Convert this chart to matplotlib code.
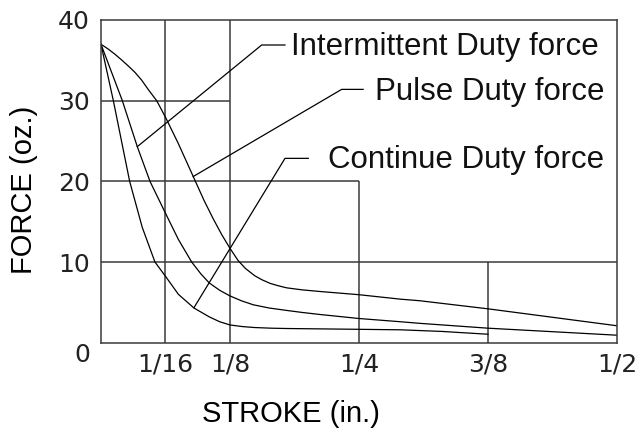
import matplotlib
matplotlib.use("Agg")
import matplotlib.pyplot as plt

# curve readings, stroke in inches / force in oz
pulse_x = [0, 0.007, 0.0136, 0.02, 0.0265, 0.033, 0.0394, 0.046, 0.054, 0.0627,
           0.0749, 0.0894, 0.1, 0.109, 0.117, 0.125, 0.1328, 0.14, 0.149, 0.156,
           0.164, 0.172, 0.18, 0.195, 0.212, 0.25, 0.29, 0.309, 0.375, 0.5]
pulse_y = [37, 36.4, 35.75, 35.05, 34.3, 33.5, 32.55, 31.35, 30, 27.9,
           24.7, 20.6, 17.6, 15.3, 13.4, 11.7, 10.2, 9.2, 8.3, 7.8,
           7.35, 7.05, 6.8, 6.55, 6.35, 5.95, 5.4, 5.2, 4.2, 2.1]

inter_x = [0, 0.0207, 0.0352, 0.0475, 0.0627, 0.075, 0.0879, 0.097, 0.105, 0.115,
           0.125, 0.136, 0.1476, 0.163, 0.18, 0.195, 0.212, 0.25, 0.29, 0.309,
           0.375, 0.5]
inter_y = [37, 30, 24.3, 20, 16.0, 12.8, 10, 8.5, 7.4, 6.5,
           5.8, 5.2, 4.7, 4.3, 4.0, 3.75, 3.5, 3.0, 2.6, 2.4,
           1.8, 0.93]

cont_x = [0, 0.012, 0.0278, 0.04, 0.0523, 0.0627, 0.075, 0.0901, 0.105, 0.115,
          0.125, 0.137, 0.149, 0.165, 0.18, 0.25, 0.29, 0.33, 0.375]
cont_y = [37, 30, 20, 14.3, 10, 8.2, 6.0, 4.3, 3.2, 2.6,
          2.2, 2.0, 1.88, 1.8, 1.76, 1.66, 1.6, 1.4, 1.05]

xticks = [1/16, 1/8, 1/4, 3/8, 1/2]
xtick_labels = ["1/16", "1/8", "1/4", "3/8", "1/2"]
yticks = [0, 10, 20, 30, 40]

grid_c = "#3a3a3a"

fig = plt.figure(figsize=(6.39, 4.30), dpi=100)
ax = fig.add_axes([0.158, 0.203, 0.8076, 0.7505])
ax.set_xlim(0, 0.5)
ax.set_ylim(0, 40)

# stepped grid like the drawing
ax.hlines(30, 0, 1/8, color=grid_c, lw=1.1)
ax.hlines(20, 0, 1/4, color=grid_c, lw=1.1)
ax.hlines(10, 0, 1/2, color=grid_c, lw=1.1)
ax.vlines(1/16, 0, 40, color=grid_c, lw=1.1)
ax.vlines(1/8, 0, 40, color=grid_c, lw=1.1)
ax.vlines(1/4, 0, 20, color=grid_c, lw=1.1)
ax.vlines(3/8, 0, 10, color=grid_c, lw=1.1)
for s in ax.spines.values():
    s.set_color(grid_c)
    s.set_linewidth(1.1)

ax.plot(pulse_x, pulse_y, color="black", lw=0.9)
ax.plot(inter_x, inter_y, color="black", lw=0.9)
ax.plot(cont_x, cont_y, color="black", lw=0.9)

# leaders and labels
ax.plot([0.0352, 0.1557, 0.1783], [24.3, 36.9, 36.9], color="black", lw=0.9)
ax.plot([0.0894, 0.2332, 0.254], [20.6, 31.4, 31.4], color="black", lw=0.9)
ax.plot([0.0901, 0.1783, 0.2009], [4.34, 22.85, 22.85], color="black", lw=0.9)
lab_font = dict(family="Liberation Sans", fontsize=22.5, color="#111111", va="baseline")
ax.text(0.1841, 35.65, "Intermittent Duty force", **lab_font)
ax.text(0.2655, 30.1, "Pulse Duty force", **lab_font)
ax.text(0.22, 21.65, "Continue Duty force", **lab_font)

ax.set_xticks(xticks)
ax.set_xticklabels(xtick_labels)
ax.set_yticks(yticks)
ax.tick_params(length=0, labelsize=18, labelcolor="#222222")
ax.tick_params(axis="x", pad=7)
ax.tick_params(axis="y", pad=8)
ax.get_yticklabels()[0].set_verticalalignment("top")

ax.set_xlabel("STROKE (in.)", family="Liberation Sans", fontsize=21)
ax.set_ylabel("FORCE (oz.)", family="Liberation Sans", fontsize=21)
ax.xaxis.set_label_coords(0.368, -0.176)
ax.yaxis.set_label_coords(-0.122, 0.473)

fig.savefig("out.png", dpi=100)
